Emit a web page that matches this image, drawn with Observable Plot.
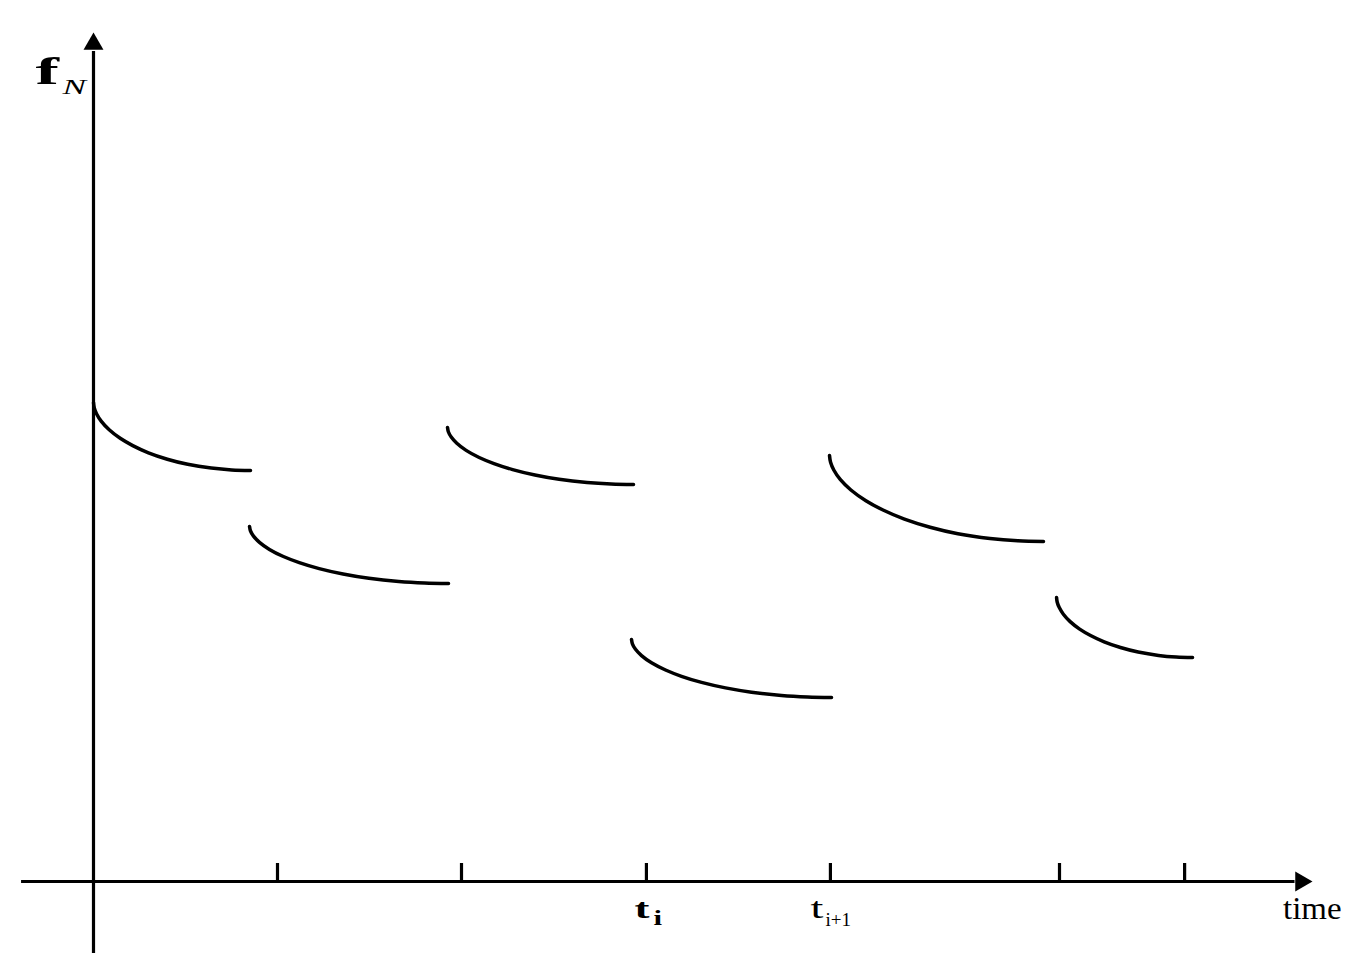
<!DOCTYPE html>
<html>
<head>
<meta charset="utf-8">
<script src="https://cdn.jsdelivr.net/npm/d3@7"></script>
<script src="https://cdn.jsdelivr.net/npm/@observablehq/plot@0.6"></script>
<style>
  html, body { margin: 0; padding: 0; background: #fff; }
  svg { display: block; }
</style>
</head>
<body>
<div id="chart"></div>
<script>
// ---- data (time units: one tick spacing ≈ 1; f in arbitrary units) ----
const tickTimes = [1.0, 2.0, 3.005, 4.005, 5.25, 5.93];
const tickLabels = [null, null, {base: "t", sub: "i"}, {base: "t", sub: "i+1"}, null, null];

const seg1T = [0, 0.0043, 0.0171, 0.0427, 0.0853, 0.1451, 0.2133, 0.2987, 0.4011, 0.512, 0.64, 0.7509, 0.8533];
const seg1F = [4.79, 4.736, 4.675, 4.601, 4.517, 4.432, 4.359, 4.287, 4.223, 4.172, 4.134, 4.115, 4.11];
const seg2T = [0.848, 0.8534, 0.8696, 0.9021, 0.9562, 1.0319, 1.1184, 1.2265, 1.3563, 1.4969, 1.6591, 1.7997, 1.9295];
const seg2F = [3.55, 3.505, 3.454, 3.392, 3.321, 3.25, 3.189, 3.129, 3.075, 3.032, 3.0, 2.985, 2.98];
const seg3T = [1.924, 1.9291, 1.9442, 1.9745, 2.0251, 2.0959, 2.1767, 2.2778, 2.3991, 2.5305, 2.6822, 2.8136, 2.9349];
const seg3F = [4.54, 4.495, 4.444, 4.382, 4.311, 4.24, 4.179, 4.119, 4.065, 4.022, 3.99, 3.975, 3.97];
const seg4T = [2.924, 2.9294, 2.9457, 2.9784, 3.0327, 3.1088, 3.1958, 3.3045, 3.4349, 3.5762, 3.7393, 3.8806, 4.011];
const seg4F = [2.42, 2.374, 2.322, 2.259, 2.187, 2.115, 2.052, 1.991, 1.936, 1.893, 1.86, 1.845, 1.84];
const seg5T = [4.0, 4.0058, 4.0233, 4.0582, 4.1163, 4.1977, 4.2908, 4.4071, 4.5466, 4.6978, 4.8723, 5.0234, 5.163];
const seg5F = [4.26, 4.192, 4.115, 4.021, 3.915, 3.808, 3.715, 3.624, 3.543, 3.478, 3.43, 3.407, 3.4];
const seg6T = [5.234, 5.2377, 5.2488, 5.271, 5.3079, 5.3596, 5.4188, 5.4927, 5.5814, 5.6775, 5.7883, 5.8844, 5.9731];
const seg6F = [2.84, 2.793, 2.739, 2.673, 2.599, 2.524, 2.46, 2.397, 2.34, 2.295, 2.261, 2.245, 2.24];

const xAxisExtent = [-0.391, 6.53];   // time axis line
const yAxisExtent = [-0.72, 8.3];     // f axis line
const xArrowAt = 6.5625;
const yArrowAt = 8.375;

const yTitle = {base: "f", sub: "N"};
const xTitle = "time";

// ---- build tidy table ----
const segs = [[seg1T, seg1F], [seg2T, seg2F], [seg3T, seg3F], [seg4T, seg4F], [seg5T, seg5F], [seg6T, seg6F]];
const curveRows = segs.flatMap(([T, F], k) => T.map((t, i) => ({seg: k, t, f: F[i]})));
const labelRows = tickTimes.map((t, i) => ({t, lab: tickLabels[i]})).filter(d => d.lab);

const serif = "Liberation Serif, Times New Roman, serif";
const txt = {fill: "#000", fontFamily: serif, textAnchor: "start", lineAnchor: "bottom"};

const svg = Plot.plot({
  width: 1367,
  height: 971,
  marginLeft: 93,
  marginRight: 78,
  marginTop: 81,
  marginBottom: 90,
  x: {domain: [0, 6.5], axis: null},
  y: {domain: [0, 8], axis: null},
  style: {background: "#fff", overflow: "visible"},
  marks: [
    // axes
    Plot.ruleY([0], {x1: xAxisExtent[0], x2: xAxisExtent[1], stroke: "#000", strokeWidth: 3.2}),
    Plot.ruleX([0], {y1: yAxisExtent[0], y2: yAxisExtent[1], stroke: "#000", strokeWidth: 3.2}),
    Plot.dot([xArrowAt], {x: d => d, y: 0, symbol: "triangle", r: 7.4, fill: "#000", stroke: null, rotate: 90}),
    Plot.dot([yArrowAt], {x: 0, y: d => d, symbol: "triangle", r: 7.4, fill: "#000", stroke: null}),
    // ticks
    Plot.ruleX(tickTimes, {y1: 0, y2: 0.18, stroke: "#000", strokeWidth: 3.2, strokeLinecap: "butt"}),
    // curves
    Plot.line(curveRows, {x: "t", y: "f", z: "seg", curve: "catmull-rom", stroke: "#000", strokeWidth: 3.5}),
    // tick labels
    Plot.text(labelRows.slice(0, 1), {...txt, x: "t", y: 0, text: d => d.lab.base, dx: -12, dy: 36,
      fontSize: 28, fontWeight: "bold", ariaDescription: "t-bold"}),
    Plot.text(labelRows.slice(0, 1), {...txt, x: "t", y: 0, text: d => d.lab.sub, dx: 7, dy: 43,
      fontSize: 22, fontWeight: "bold", ariaDescription: "sub-bold"}),
    Plot.text(labelRows.slice(1), {...txt, x: "t", y: 0, text: d => d.lab.base, dx: -20, dy: 36,
      fontSize: 29, ariaDescription: "t-reg"}),
    Plot.text(labelRows.slice(1), {...txt, x: "t", y: 0, text: d => d.lab.sub, dx: -5, dy: 44,
      fontSize: 19}),
    // axis titles
    Plot.text([xTitle], {...txt, x: xArrowAt, y: 0, text: d => d, dx: -18, dy: 37,
      fontSize: 32, ariaDescription: "time"}),
    Plot.text([yTitle], {...txt, x: 0, y: yAxisExtent[1], text: d => d.base, dx: -58, dy: 32,
      fontSize: 38, fontWeight: "bold", ariaDescription: "f-base"}),
    Plot.text([yTitle], {...txt, x: 0, y: yAxisExtent[1], text: d => d.sub, dx: -31, dy: 42,
      fontSize: 22, fontStyle: "italic", ariaDescription: "f-sub"})
  ]
});

// widen glyphs horizontally, as in the original drawing
const widen = (desc, sx) => d3.select(svg).selectAll(`g[aria-description="${desc}"] text`)
  .attr("transform", function () { return (this.getAttribute("transform") || "") + ` scale(${sx},1)`; });
widen("f-base", 1.85);
widen("f-sub", 1.6);
widen("t-bold", 1.6);
widen("sub-bold", 1.4);
widen("t-reg", 1.6);
widen("time", 1.03);

document.getElementById("chart").appendChild(svg);
</script>
</body>
</html>
